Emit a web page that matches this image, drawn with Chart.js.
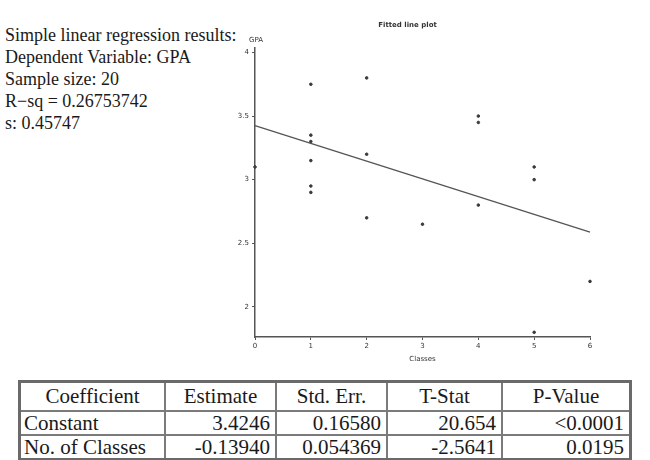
<!DOCTYPE html>
<html>
<head>
<meta charset="utf-8">
<script src="https://cdn.jsdelivr.net/npm/chart.js@4.4.0/dist/chart.umd.min.js"></script>
<style>
  body { margin: 0; width: 650px; height: 460px; background: #fff; position: relative; overflow: hidden; }
  #resumen { position: absolute; left: 5px; top: 24px; font-family: "Liberation Serif", serif; font-size: 18px; line-height: 22px; color: #1a1a1a; }
  #caja { position: absolute; left: 225px; top: 0; width: 390px; height: 380px; }
  table { position: absolute; left: 18px; top: 380px; border-collapse: collapse; font-family: "Liberation Serif", serif; font-size: 21px; line-height: 21px; color: #1a1a1a; border: 3px solid #6a6a6a; }
  td, th { border: 2px solid #7a7a7a; padding: 0 5px; font-weight: normal; }
  th { height: 27px; text-align: center; }
  td { height: 22px; text-align: right; }
  td.nombre { text-align: left; padding-left: 3px; }
</style>
</head>
<body>
<div id="resumen"></div>
<div id="caja"><canvas id="lienzo"></canvas></div>
<table id="tabla"></table>
<script>
// datos
const clases = [0, 1, 1, 1, 1, 1, 1, 2, 2, 2, 3, 4, 4, 4, 5, 5, 5, 6]
const gpa = [3.1, 3.75, 3.35, 3.3, 3.15, 2.95, 2.9, 3.8, 3.2, 2.7, 2.65, 3.5, 3.45, 2.8, 3.1, 3.0, 1.8, 2.2]
const recta_x = [0, 6]
const recta_y = [3.4246, 2.588]
const ticks_y = [2, 2.5, 3, 3.5, 4]
const ticks_x = [0, 1, 2, 3, 4, 5, 6]

const resumen = [
    'Simple linear regression results:',
    'Dependent Variable: GPA',
    'Sample size: 20',
    'R\u2212sq = 0.26753742',
    's: 0.45747'
]

const columnas = ['Coefficient', 'Estimate', 'Std. Err.', 'T-Stat', 'P-Value']
const constante = ['Constant', '3.4246', '0.16580', '20.654', '<0.0001']
const pendiente = ['No. of Classes', '-0.13940', '0.054369', '-2.5641', '0.0195']
const anchos = [145, 111, 111, 115, 128]

document.getElementById('resumen').innerHTML = resumen.map(t => '<div>' + t.replace('<', '&lt;') + '</div>').join('')

let html = '<tr>' + columnas.map((c, i) => '<th style="width:' + (anchos[i] - 12) + 'px">' + c + '</th>').join('') + '</tr>'
for (const fila of [constante, pendiente]) {
    html += '<tr>' + fila.map((c, i) => '<td' + (i == 0 ? ' class="nombre"' : '') + '>' + c.replace('<', '&lt;') + '</td>').join('') + '</tr>'
}
document.getElementById('tabla').innerHTML = html

// etiqueta GPA arriba del eje
const etiquetaGPA = {
    id: 'etiquetaGPA',
    afterDraw(chart) {
        const ctx = chart.ctx
        const y = chart.scales.y
        ctx.save()
        ctx.font = '7px "DejaVu Sans", sans-serif'
        ctx.fillStyle = '#333'
        ctx.textAlign = 'center'
        ctx.fillText('GPA', y.right + 1, chart.chartArea.top - 5)
        ctx.restore()
    }
}

const fuente = { size: 7, family: '"DejaVu Sans", sans-serif' }

new Chart(document.getElementById('lienzo'), {
    type: 'scatter',
    data: {
        datasets: [{
            data: clases.map((c, i) => ({ x: c, y: gpa[i] })),
            backgroundColor: '#3a3a3a',
            borderColor: '#3a3a3a',
            pointRadius: 1.3,
            clip: false
        }, {
            type: 'line',
            data: recta_x.map((c, i) => ({ x: c, y: recta_y[i] })),
            borderColor: '#555',
            borderWidth: 1.3,
            pointRadius: 0,
            fill: false,
            clip: false
        }]
    },
    options: {
        responsive: true,
        maintainAspectRatio: false,
        animation: false,
        layout: { padding: { left: 0, right: 25, top: 0, bottom: 12 } },
        plugins: {
            legend: { display: false },
            tooltip: { enabled: false },
            title: {
                display: true,
                text: 'Fitted line plot',
                color: '#333',
                font: { size: 7, weight: 'bold', family: '"DejaVu Sans", sans-serif' },
                padding: { top: 21, bottom: 18 }
            }
        },
        scales: {
            x: {
                type: 'linear',
                min: 0,
                max: 6,
                afterBuildTicks: (s) => { s.ticks = ticks_x.map(v => ({ value: v })) },
                afterFit: (s) => { s.height = 31 },
                grid: { drawOnChartArea: false, drawTicks: true, tickLength: 3, color: '#555' },
                border: { display: true, color: '#555', width: 1.5 },
                ticks: { color: '#333', font: fuente, padding: 2 },
                title: { display: true, text: 'Classes', color: '#333', font: fuente, padding: { top: 4, bottom: 5 } }
            },
            y: {
                type: 'linear',
                min: 1.763,
                max: 4.04,
                afterBuildTicks: (s) => { s.ticks = ticks_y.map(v => ({ value: v })) },
                afterFit: (s) => { s.width = 30 },
                grid: { drawOnChartArea: false, drawTicks: true, tickLength: 3, color: '#555' },
                border: { display: true, color: '#555', width: 1.5 },
                ticks: { color: '#333', font: fuente, padding: 3, callback: (v) => String(v) }
            }
        }
    },
    plugins: [etiquetaGPA]
})
</script>
</body>
</html>
